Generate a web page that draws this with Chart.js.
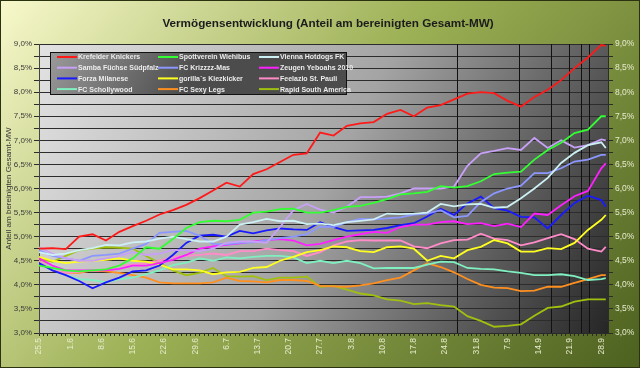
<!DOCTYPE html>
<html>
<head>
<meta charset="utf-8">
<script src="https://cdn.jsdelivr.net/npm/chart.js@4.4.0/dist/chart.umd.min.js"></script>
<style>
html,body{margin:0;padding:0;background:#fff}
#wrap{width:640px;height:368px}
</style>
</head>
<body>
<div id="wrap"><canvas id="c" width="640" height="368"></canvas></div>
<script>
// day index since 25.5 (sampled every 3 days)
const days = [0,3,6,9,12,15,18,21,24,27,30,33,36,39,42,45,48,51,54,57,60,63,66,69,72,75,78,81,84,87,90,93,96,99,102,105,108,111,114,117,120,123,126,127];
const weekLabels = ['25.5','1.6','8.6','15.6','22.6','29.6','6.7','13.7','20.7','27.7','3.8','10.8','17.8','24.8','31.8','7.9','14.9','21.9','28.9'];
const markerDays = [93.6,107.5,114.7,118.7,121.4,123.2];

const teams = ['Krefelder Knickers','Spottverein Wiehibus','Vienna Hotdogs FK',
  'Samba Füchse Südpfalz','FC Krizzzz-Mas','Zeugen Yeboahs 2010',
  'Forza Milanese','gorilla´s Kiezkicker','Feelazio St. Pauli',
  'FC Schollywood','FC Sexy Legs','Rapid South America'];
const colors = ['#ff1a1a','#33ff33','#ccf0f4','#c8a0f8','#8c96ff','#ff20ff',
  '#1a1aff','#ffff20','#ff8cc8','#80f0c0','#ff9020','#a0c010'];

const krefelder = [4.75,4.76,4.74,5.0,5.05,4.92,5.1,5.22,5.33,5.46, 5.55,5.66,5.8,5.96,6.12,6.04,6.3,6.4,6.55,6.7, 6.73,7.16,7.1,7.3,7.35,7.38,7.55,7.63,7.5,7.68, 7.73,7.85,7.97,8.0,7.98,7.82,7.7,7.9,8.05,8.25, 8.5,8.72,8.98,8.96];
const spottverein = [4.4,4.35,4.3,4.28,4.3,4.32,4.4,4.55,4.78,4.75, 4.95,5.18,5.3,5.33,5.32,5.35,5.5,5.52,5.57,5.58, 5.5,5.5,5.55,5.62,5.64,5.7,5.78,5.88,5.9,5.93, 6.05,6.02,6.05,6.15,6.3,6.33,6.35,6.6,6.8,6.95, 7.15,7.22,7.5,7.5];
const vienna = [4.68,4.62,4.65,4.72,4.76,4.83,4.82,4.88,4.9,4.96, 5.0,4.95,4.9,4.9,5.0,5.25,5.3,5.37,5.32,5.33, 5.26,5.27,5.24,5.3,5.33,5.36,5.48,5.47,5.48,5.5, 5.68,5.63,5.67,5.68,5.6,5.62,5.8,6.0,6.22,6.53, 6.74,6.9,6.96,6.84];
const samba = [4.78,4.65,4.55,4.5,4.5,4.55,4.6,4.68,4.62,4.65, 4.72,4.72,4.7,4.75,4.87,4.9,4.9,4.87,5.2,5.55, 5.68,5.56,5.5,5.62,5.82,5.82,5.83,5.9,6.0,6.0, 6.0,6.04,6.47,6.73,6.78,6.84,6.8,7.05,6.84,7.0, 6.85,6.9,7.02,7.0];
const krizzzz = [4.72,4.6,4.55,4.5,4.6,4.62,4.65,4.75,4.85,5.08, 5.1,5.12,5.02,4.85,4.84,4.87,4.88,4.93,4.97,5.0, 5.05,5.21,5.2,5.3,5.37,5.36,5.38,5.4,5.46,5.48, 5.55,5.4,5.43,5.72,5.9,6.0,6.06,6.32,6.32,6.42, 6.56,6.6,6.7,6.7];
const zeugen = [4.55,4.4,4.3,4.3,4.3,4.3,4.33,4.4,4.4,4.45, 4.52,4.62,4.75,4.8,4.83,4.86,4.9,4.93,4.95,4.92, 4.82,4.85,4.93,5.0,5.05,5.1,5.08,5.2,5.25,5.25, 5.3,5.32,5.26,5.28,5.22,5.27,5.2,5.48,5.45,5.65, 5.84,5.95,6.42,6.52];
const forza = [4.45,4.3,4.2,4.08,3.93,4.05,4.15,4.28,4.3,4.4, 4.62,4.87,5.02,5.04,5.0,5.12,5.07,5.13,5.17,5.15, 5.14,5.3,5.2,5.12,5.13,5.14,5.18,5.24,5.28,5.42, 5.58,5.45,5.69,5.83,5.59,5.54,5.41,5.4,5.17,5.45, 5.7,5.85,5.76,5.62];
const gorilla = [4.58,4.5,4.45,4.48,4.5,4.52,4.55,4.5,4.48,4.42, 4.32,4.32,4.3,4.22,4.26,4.27,4.35,4.37,4.5,4.58, 4.68,4.72,4.8,4.78,4.7,4.68,4.78,4.8,4.75,4.5, 4.6,4.55,4.72,4.79,4.93,4.86,4.69,4.69,4.76,4.74, 4.87,5.14,5.35,5.45];
const feelazio = [4.5,4.3,4.25,4.27,4.3,4.32,4.4,4.42,4.45,4.5, 4.58,4.6,4.62,4.65,4.62,4.7,4.7,4.75,4.72,4.7, 4.6,4.68,4.82,4.9,4.93,4.92,4.92,4.92,4.8,4.76, 4.86,4.93,4.94,5.06,4.96,4.93,4.82,4.88,4.97,5.05, 4.95,4.75,4.69,4.79];
const schollywood = [4.5,4.35,4.2,4.12,4.1,4.05,4.12,4.15,4.22,4.3, 4.41,4.46,4.55,4.5,4.57,4.55,4.58,4.6,4.6,4.57, 4.45,4.5,4.45,4.5,4.45,4.34,4.35,4.35,4.35,4.42, 4.48,4.47,4.35,4.33,4.32,4.28,4.25,4.2,4.2,4.22, 4.18,4.1,4.12,4.14];
const sexyLegs = [4.58,4.3,4.25,4.25,4.3,4.28,4.25,4.2,4.15,4.05, 4.03,4.03,4.03,4.05,4.15,4.08,4.07,4.05,4.1,4.1, 4.08,3.98,3.97,3.96,3.99,4.03,4.1,4.15,4.3,4.45, 4.37,4.26,4.12,4.0,3.94,3.93,3.87,3.88,3.96,3.96, 4.04,4.12,4.2,4.2];
const rapid = [4.55,4.48,4.6,4.72,4.75,4.78,4.77,4.75,4.6,4.45, 4.3,4.2,4.25,4.35,4.18,4.17,4.18,4.1,4.15,4.15, 4.17,3.96,3.98,3.9,3.82,3.78,3.7,3.67,3.6,3.62, 3.58,3.55,3.35,3.25,3.13,3.15,3.18,3.36,3.52,3.55, 3.65,3.7,3.7,3.7];

const series = [krefelder,spottverein,vienna,samba,krizzzz,zeugen,forza,gorilla,feelazio,schollywood,sexyLegs,rapid];
const FONT = '"Liberation Sans", Arial, sans-serif';

const pct = v => (Math.round(v * 100) % 50 === 0) ? v.toFixed(1).replace('.', ',') + '%' : '';

const backdrop = {
  id: 'backdrop',
  beforeDraw(chart) {
    const ctx = chart.ctx, a = chart.chartArea;
    let g = ctx.createLinearGradient(0, 0, 560, 480);
    g.addColorStop(0, '#f8f9cc');
    g.addColorStop(0.45, '#9cb055');
    g.addColorStop(1, '#4a5e1e');
    ctx.save();
    ctx.fillStyle = g;
    ctx.fillRect(0, 0, chart.width, chart.height);
    ctx.strokeStyle = '#2a3210';
    ctx.lineWidth = 1;
    ctx.strokeRect(0.5, 0.5, chart.width - 1, chart.height - 1);
    let p = ctx.createLinearGradient(a.left, a.top, a.right, a.bottom);
    p.addColorStop(0, '#e2e2e2');
    p.addColorStop(0.5, '#a4a4a4');
    p.addColorStop(1, '#262626');
    ctx.fillStyle = p;
    ctx.fillRect(a.left, a.top, a.right - a.left, a.bottom - a.top);
    ctx.restore();
  },
  beforeDatasetsDraw(chart) {
    const ctx = chart.ctx, a = chart.chartArea, x = chart.scales.x;
    ctx.save();
    ctx.strokeStyle = '#111';
    ctx.lineWidth = 1;
    markerDays.forEach(d => {
      const px = Math.round(x.getPixelForValue(d)) + 0.5;
      ctx.beginPath();
      ctx.moveTo(px, a.top);
      ctx.lineTo(px, a.bottom);
      ctx.stroke();
    });
    ctx.restore();
  },
  afterDraw(chart) {
    const ctx = chart.ctx;
    ctx.save();
    ctx.fillStyle = '#1c1c1c';
    ctx.font = 'bold 11.7px ' + FONT;
    ctx.textAlign = 'center';
    ctx.textBaseline = 'alphabetic';
    ctx.fillText('Vermögensentwicklung (Anteil am bereinigten Gesamt-MW)', 328, 27);

    // legend box
    const bx = 50.5, by = 52.5, bw = 296, bh = 42;
    let g = ctx.createLinearGradient(bx, by, bx + bw * 0.4, by + bh * 1.6);
    g.addColorStop(0, '#9a9a9a');
    g.addColorStop(1, '#4c4c4c');
    ctx.fillStyle = g;
    ctx.fillRect(bx, by, bw, bh);
    ctx.strokeStyle = '#111';
    ctx.strokeRect(bx, by, bw, bh);
    const colX = [57, 158, 259];
    ctx.font = 'bold 7px ' + FONT;
    ctx.textAlign = 'left';
    ctx.textBaseline = 'middle';
    teams.forEach((t, i) => {
      const cx = colX[i % 3], cy = by + 4.5 + Math.floor(i / 3) * 10.7;
      ctx.strokeStyle = colors[i];
      ctx.lineWidth = 2;
      ctx.beginPath();
      ctx.moveTo(cx, cy);
      ctx.lineTo(cx + 20, cy);
      ctx.stroke();
      ctx.fillStyle = '#ececec';
      ctx.fillText(t, cx + 21, cy + 0.5);
    });
    ctx.restore();
  }
};

new Chart(document.getElementById('c'), {
  type: 'line',
  data: {
    datasets: series.map((s, i) => ({
      label: teams[i],
      data: days.map((d, j) => ({x: d, y: s[j]})),
      borderColor: colors[i],
      backgroundColor: colors[i],
    })),
  },
  options: {
    responsive: false,
    animation: false,
    devicePixelRatio: 1,
    layout: {padding: {top: 44, left: 0, right: 0, bottom: 0}},
    elements: {point: {radius: 0}, line: {borderWidth: 1.8, tension: 0}},
    plugins: {legend: {display: false}, tooltip: {enabled: false}},
    scales: {
      x: {
        type: 'linear', min: 0, max: 127.5,
        afterBuildTicks: s => { s.ticks = []; for (let d = 0; d <= 127; d++) s.ticks.push({value: d}); },
        ticks: {
          autoSkip: false, minRotation: 90, maxRotation: 90, padding: 2,
          color: '#e6eccc', font: {size: 8.5, family: FONT},
          callback: v => v % 7 === 0 ? weekLabels[v / 7] : ''
        },
        grid: {drawOnChartArea: false, tickLength: 3, color: '#2a2a2a'},
        border: {color: '#2a2a2a'},
        afterFit: s => { s.height = 35; }
      },
      y: {
        position: 'left', min: 3, max: 9,
        afterBuildTicks: s => { s.ticks = []; for (let k = 0; k <= 24; k++) s.ticks.push({value: 3 + k * 0.25}); },
        ticks: {autoSkip: false, padding: 2, color: '#3a3a3a', font: {size: 8, family: FONT}, callback: pct},
        grid: {color: '#2c2c2c', tickLength: 5},
        border: {color: '#444'},
        title: {display: true, text: 'Anteil am bereinigten Gesamt-MW', color: '#333', font: {size: 8, family: FONT}, padding: {top: 4, bottom: 0}},
        afterFit: s => { s.width = 39; }
      },
      y2: {
        position: 'right', min: 3, max: 9,
        afterBuildTicks: s => { s.ticks = []; for (let k = 0; k <= 24; k++) s.ticks.push({value: 3 + k * 0.25}); },
        ticks: {autoSkip: false, padding: 2, color: '#e6eccc', font: {size: 8.5, family: FONT}, callback: pct},
        grid: {drawOnChartArea: false, color: '#2c2c2c', tickLength: 5},
        border: {color: '#2c2c2c'},
        afterFit: s => { s.width = 32; }
      }
    }
  },
  plugins: [backdrop]
});
</script>
</body>
</html>
